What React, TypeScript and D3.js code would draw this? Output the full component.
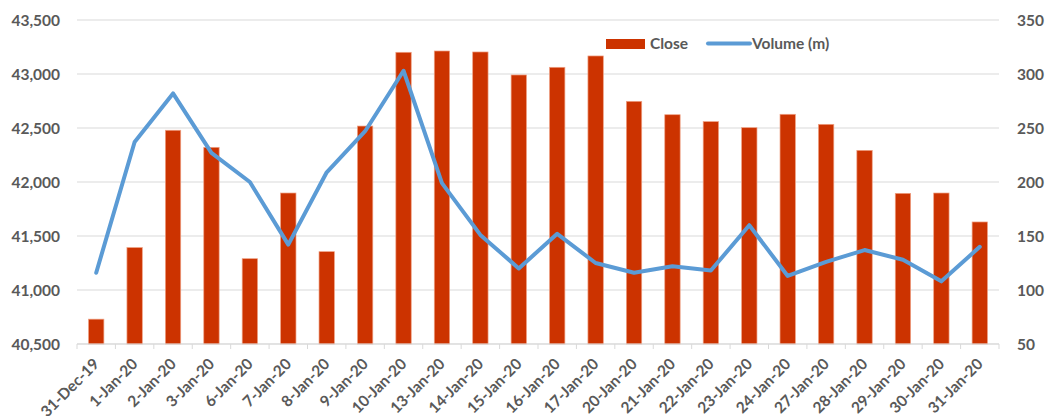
import React from "react";
import * as d3 from "d3";

const categories = [
  "31-Dec-19", "1-Jan-20", "2-Jan-20", "3-Jan-20", "6-Jan-20", "7-Jan-20", "8-Jan-20",
  "9-Jan-20", "10-Jan-20", "13-Jan-20", "14-Jan-20", "15-Jan-20", "16-Jan-20", "17-Jan-20",
  "20-Jan-20", "21-Jan-20", "22-Jan-20", "23-Jan-20", "24-Jan-20", "27-Jan-20", "28-Jan-20",
  "29-Jan-20", "30-Jan-20", "31-Jan-20",
];
const closeValues = [
  40730, 41393, 42479, 42321, 41290, 41898, 41355, 42518, 43201, 43213, 43204, 42991,
  43062, 43167, 42747, 42623, 42559, 42503, 42627, 42534, 42293, 41895, 41898, 41630,
];
const volumeValues = [
  116, 237, 282, 227, 200, 142, 209, 247, 303, 199, 151, 120,
  152, 125, 116, 122, 118, 160, 113, 126, 137, 128, 108, 140,
];
const leftTicks = [40500, 41000, 41500, 42000, 42500, 43000, 43500];
const rightTicks = [50, 100, 150, 200, 250, 300, 350];
const seriesNames = ["Close", "Volume (m)"];

const W = 1045;
const H = 416;
const plot = { left: 77, right: 999, top: 20, bottom: 344 };
const FONT = "Lato, 'Open Sans', sans-serif";
const FS = 15.5;
const TXT = "#595959";
const GRID = "#D9D9D9";
const BAR = "#CC3300";
const LINE = "#5B9BD5";

export default function App() {
  const x = d3.scaleBand<string>().domain(categories).range([plot.left, plot.right]).padding(0);
  const yL = d3.scaleLinear().domain([40500, 43500]).range([plot.bottom, plot.top]);
  const yR = d3.scaleLinear().domain([50, 350]).range([plot.bottom, plot.top]);
  const bw = x.bandwidth() * 0.4;
  const cx = (c: string) => (x(c) as number) + x.bandwidth() / 2;

  const line = d3
    .line<number>()
    .x((_, i) => cx(categories[i]))
    .y((v) => yR(v));

  const tickXs = categories.map((c) => x(c) as number).concat([plot.right]);

  return (
    <svg
      width={W}
      height={H}
      style={{ position: "absolute", left: 0, top: 0, background: "#fff" }}
      fontFamily={FONT}
    >
      {leftTicks.map((t) => (
        <line key={"g" + t} x1={plot.left} x2={plot.right} y1={yL(t)} y2={yL(t)} stroke={GRID} strokeWidth={1} />
      ))}
      {leftTicks.map((t) => (
        <text key={"l" + t} x={60} y={yL(t)} dy="0.36em" textAnchor="end" fontSize={FS} fontWeight="bold" fill={TXT}>
          {d3.format(",")(t)}
        </text>
      ))}
      {rightTicks.map((t) => (
        <text key={"r" + t} x={1017} y={yR(t)} dy="0.36em" textAnchor="start" fontSize={FS} fontWeight="bold" fill={TXT}>
          {t}
        </text>
      ))}
      {tickXs.map((tx, i) => (
        <line key={"t" + i} x1={tx} x2={tx} y1={plot.bottom} y2={plot.bottom + 5} stroke={GRID} strokeWidth={1} />
      ))}
      {categories.map((c, i) => (
        <rect
          key={"b" + c}
          x={cx(c) - bw / 2}
          y={yL(closeValues[i])}
          width={bw}
          height={plot.bottom - yL(closeValues[i])}
          fill={BAR}
          stroke="#EFA184"
          strokeWidth={0.7}
        />
      ))}
      <line x1={plot.left} x2={plot.right} y1={plot.bottom} y2={plot.bottom} stroke={GRID} strokeWidth={1} />
      <path d={line(volumeValues) || ""} fill="none" stroke={LINE} strokeWidth={4} strokeLinejoin="round" strokeLinecap="round" />
      {categories.map((c) => (
        <text
          key={"x" + c}
          transform={`translate(${cx(c) + 4},${plot.bottom + 21}) rotate(-45)`}
          textAnchor="end"
          fontSize={FS}
          fontWeight="bold"
          fill={TXT}
        >
          {c}
        </text>
      ))}
      <g>
        <rect x={606} y={39} width={39} height={10} fill={BAR} />
        <text x={650} y={49} fontSize={FS} fontWeight="bold" fill={TXT}>
          {seriesNames[0]}
        </text>
        <line x1={708} x2={750} y1={43.5} y2={43.5} stroke={LINE} strokeWidth={4} strokeLinecap="round" />
        <text x={752} y={49} fontSize={FS} fontWeight="bold" fill={TXT}>
          {seriesNames[1]}
        </text>
      </g>
    </svg>
  );
}
